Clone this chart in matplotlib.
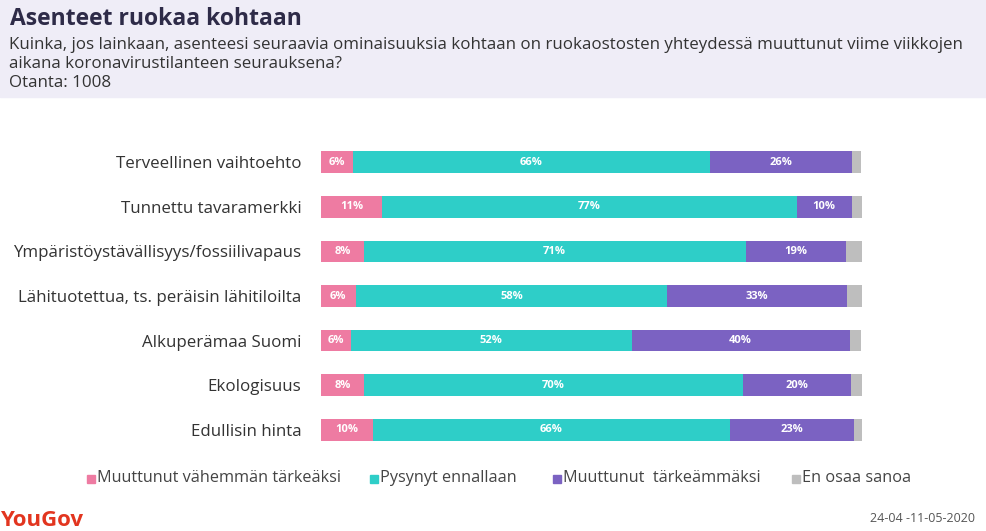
import matplotlib.pyplot as plt
from matplotlib.patches import Rectangle

plt.rcParams['font.family'] = ['Open Sans', 'DejaVu Sans']

categories = [
    'Terveellinen vaihtoehto',
    'Tunnettu tavaramerkki',
    'Ympäristöystävällisyys/fossiilivapaus',
    'Lähituotettua, ts. peräisin lähitiloilta',
    'Alkuperämaa Suomi',
    'Ekologisuus',
    'Edullisin hinta',
]
less_important = [5.9, 11.3, 7.9, 6.4, 5.5, 7.9, 9.6]
unchanged = [66.0, 76.6, 70.6, 57.6, 51.9, 70.1, 66.0]
more_important = [26.2, 10.2, 18.6, 33.3, 40.3, 20.0, 22.9]
dont_know = [1.8, 2.0, 3.0, 2.8, 2.2, 2.0, 1.5]

series_names = ['Muuttunut vähemmän tärkeäksi', 'Pysynyt ennallaan',
                'Muuttunut  tärkeämmäksi', 'En osaa sanoa']
colors = ['#EE7BA2', '#2ECEC8', '#7B62C2', '#BEBEBE']
series = [less_important, unchanged, more_important, dont_know]

W, H = 987, 531
fig = plt.figure(figsize=(W / 100, H / 100), dpi=100)

# header band
fig.patches.append(Rectangle((0, 1 - 97 / H), 1, 97 / H, transform=fig.transFigure,
                             color='#EFEDF7', zorder=0))
fig.text(10 / W, 1 - 19 / H, 'Asenteet ruokaa kohtaan', fontsize=16.5, fontweight='bold',
         color='#2E2B48', va='center')
sub_lines = ['Kuinka, jos lainkaan, asenteesi seuraavia ominaisuuksia kohtaan on ruokaostosten yhteydessä muuttunut viime viikkojen',
             'aikana koronavirustilanteen seurauksena?',
             'Otanta: 1008']
for i, line in enumerate(sub_lines):
    fig.text(9 / W, 1 - (45 + 19 * i) / H, line, fontsize=12.2, color='#333333',
             va='center')

ax = fig.add_axes([321 / W, (H - 452) / H, (862 - 321) / W, 312 / H])
y = list(range(len(categories)))
left = [0] * len(categories)
for vals, col, name in zip(series, colors, series_names):
    ax.barh(y, vals, left=left, height=0.49, color=col, label=name)
    if name != 'En osaa sanoa':
        for yi, l, v in zip(y, left, vals):
            ax.text(l + v / 2, yi, f'{round(v)}%', ha='center', va='center',
                    color='white', fontsize=8, fontweight='bold')
    left = [a + b for a, b in zip(left, vals)]

ax.set_xlim(0, 100)
ax.set_ylim(len(categories) - 0.5, -0.5)
ax.set_yticks(y)
ax.set_yticklabels(categories, fontsize=12.2, color='#333333')
ax.tick_params(axis='y', length=0, pad=14)
ax.set_xticks([])
for s in ax.spines.values():
    s.set_visible(False)

# legend
leg_x = [87, 370, 553, 792]
for lx, col, name in zip(leg_x, colors, series_names):
    fig.patches.append(Rectangle((lx / W, 1 - 483 / H), 8 / W, 8 / H,
                                 transform=fig.transFigure, color=col))
    fig.text((lx + 10) / W, 1 - 478 / H, name, fontsize=11.7, color='#444444', va='center')

fig.text(0, 1 - 520 / H, 'YouGov', fontsize=16, fontweight='bold', color='#E2351F',
         va='center')
fig.text(975 / W, 1 - 519 / H, '24-04 -11-05-2020', fontsize=9, color='#555555',
         va='center', ha='right')

fig.savefig('out.png', dpi=100)
